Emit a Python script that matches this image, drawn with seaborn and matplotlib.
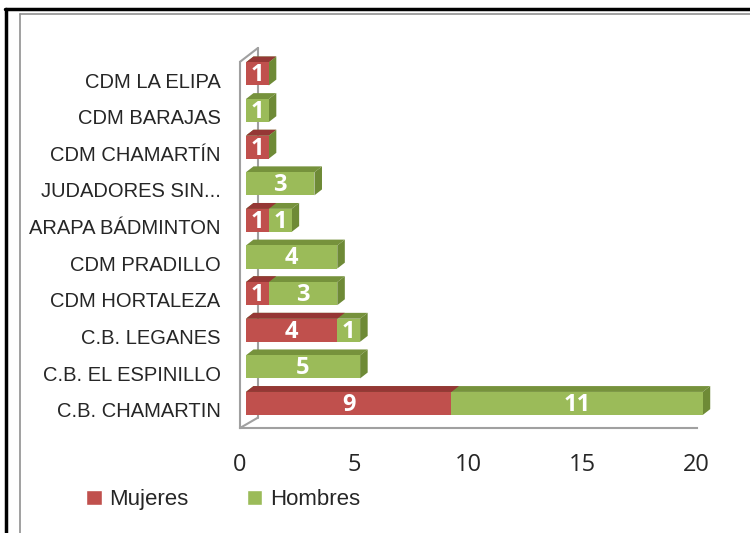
import numpy as np
import pandas as pd
import seaborn as sns
import matplotlib.pyplot as plt
from matplotlib.patches import Polygon, Patch
from matplotlib.lines import Line2D

clubs = ["CDM LA ELIPA", "CDM BARAJAS", "CDM CHAMARTÍN", "JUDADORES SIN...",
         "ARAPA BÁDMINTON", "CDM PRADILLO", "CDM HORTALEZA", "C.B. LEGANES",
         "C.B. EL ESPINILLO", "C.B. CHAMARTIN"]
mujeres = [1, 0, 1, 0, 1, 0, 1, 4, 0, 9]
hombres = [0, 1, 0, 3, 1, 4, 3, 1, 5, 11]
series = ["Mujeres", "Hombres"]
x_ticks = [0, 5, 10, 15, 20]

RED, GREEN = "#C0504D", "#9BBB59"
RED_D, GREEN_D = "#953735", "#76923C"
AXC = "#A0A0A0"
NUM_FONT = ["Open Sans", "DejaVu Sans"]

sns.set_style("white")
plt.rcParams['font.family'] = ['Liberation Sans Narrow', 'Liberation Sans', 'DejaVu Sans']

df = pd.DataFrame({"club": clubs, "Mujeres": mujeres, "Hombres": hombres})
df["total"] = df["Mujeres"] + df["Hombres"]

fig = plt.figure(figsize=(7.5, 5.33), dpi=100)
ax = fig.add_axes([0.32, 0.197, 0.609, 0.687])

# stacked: totals in green, mujeres in red over them
sns.barplot(data=df, y="club", x="total", color=GREEN, orient="h", width=0.63,
            ax=ax, saturation=1, edgecolor="none", zorder=3)
sns.barplot(data=df, y="club", x="Mujeres", color=RED, orient="h", width=0.63,
            ax=ax, saturation=1, edgecolor="none", zorder=3)

ax.set_xlim(0, 20)
ax.set_ylim(9.5, -0.5)

# shift the bars to the middle of the 3D depth and add top/side faces
ox, oy = 0.26, -0.17
dx, dy = 0.33, 0.16
for p in list(ax.patches):
    w = p.get_width()
    if w <= 0:
        continue
    p.set_clip_on(False)
    p.set_x(p.get_x() + ox)
    p.set_y(p.get_y() + oy)
    x0, y0 = p.get_x(), p.get_y()
    c = RED_D if p.get_facecolor()[0] > 0.7 else GREEN_D
    ax.add_patch(Polygon([(x0, y0), (x0 + w, y0), (x0 + w + dx, y0 - dy), (x0 + dx, y0 - dy)],
                         closed=True, facecolor=c, edgecolor="none", zorder=2, clip_on=False))
for i, (m, t) in enumerate(zip(mujeres, hombres)):
    tot = m + t + ox
    yt, yb = i + oy - 0.315, i + oy + 0.315
    ax.add_patch(Polygon([(tot, yt), (tot + dx, yt - dy), (tot + dx, yb - dy), (tot, yb)],
                         closed=True, facecolor="#6E8A36", edgecolor="none", zorder=2,
                         clip_on=False))

# value labels
for i, (m, t) in enumerate(zip(mujeres, hombres)):
    if m > 0:
        ax.text(ox + m / 2, i + oy + 0.04, str(m), ha="center", va="center", color="white",
                fontsize=17, fontweight="bold", family=NUM_FONT, zorder=5)
    if t > 0:
        ax.text(ox + m + t / 2, i + oy + 0.04, str(t), ha="center", va="center", color="white",
                fontsize=17, fontweight="bold", family=NUM_FONT, zorder=5)

# back wall of the 3D box
bw, bh = 0.79, 0.38
wall = dict(color=AXC, lw=1.5, clip_on=False, zorder=1)
ax.plot([bw, bw], [9.5 - bh * 0.75, -0.5 - bh], **wall)
ax.plot([0, bw], [-0.5, -0.5 - bh], **wall)
ax.plot([0, bw], [9.5, 9.5 - bh * 0.75], **wall)

ax.set_xticks(x_ticks)
ax.set_xticklabels([str(v) for v in x_ticks], fontsize=17, family=NUM_FONT)
ax.set_yticks(np.arange(len(clubs)) - 0.5, minor=True)
ax.set_yticks(np.arange(len(clubs)))
ax.set_yticklabels(clubs)
ax.tick_params(axis="y", which="major", length=0, labelsize=14.5, pad=14)
ax.tick_params(axis="y", which="minor", length=6, color=AXC, width=1.5, direction="out")
ax.tick_params(axis="x", length=6, color=AXC, width=1.5, direction="out", pad=12)
ax.set_xlabel("")
ax.set_ylabel("")
for s in ["top", "right"]:
    ax.spines[s].set_visible(False)
for s in ["left", "bottom"]:
    ax.spines[s].set_color(AXC)
    ax.spines[s].set_linewidth(1.5)

handles = [Patch(facecolor=RED, label=series[0]), Patch(facecolor=GREEN, label=series[1])]
fig.legend(handles=handles, loc="center left", bbox_to_anchor=(0.115, 0.062), ncol=2,
           frameon=False, fontsize=16, handlelength=0.7, handleheight=0.7,
           handletextpad=0.35, columnspacing=2.6, borderaxespad=0, borderpad=0)

# outer frame
fig.add_artist(Line2D([0.007, 1.0], [0.983, 0.983], color="black", lw=2.5))
fig.add_artist(Line2D([0.008, 0.008], [0.0, 0.983], color="black", lw=2.5))
fig.add_artist(Line2D([0.027, 0.027], [0.0, 0.974], color="#909090", lw=1.2))
fig.add_artist(Line2D([0.027, 1.0], [0.974, 0.974], color="#909090", lw=1.2))

fig.savefig("out.png", dpi=100)
